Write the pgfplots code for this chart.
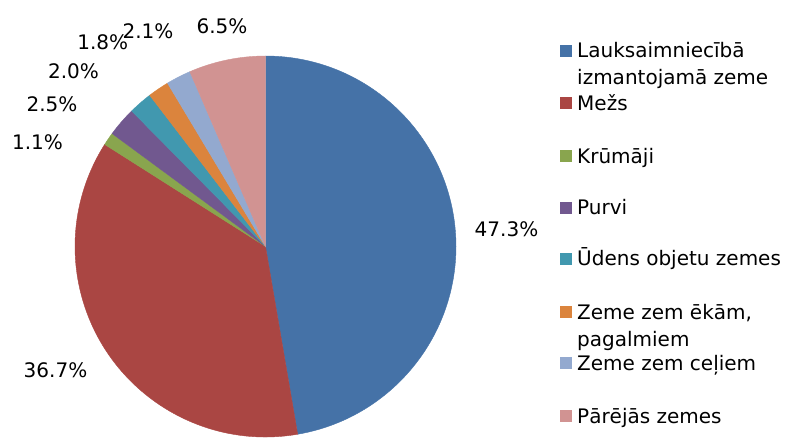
\documentclass[border=0pt]{standalone}
\usepackage{pgfplots}
\pgfplotsset{compat=1.18}
\usepackage{fontspec}
\setmainfont{DejaVu Sans}
\definecolor{c1}{HTML}{4572A7}
\definecolor{c2}{HTML}{AA4643}
\definecolor{c3}{HTML}{89A54E}
\definecolor{c4}{HTML}{71588F}
\definecolor{c5}{HTML}{4198AF}
\definecolor{c6}{HTML}{DB843D}
\definecolor{c7}{HTML}{93A9CF}
\definecolor{c8}{HTML}{D19392}
\def\cx{265.5}
\def\cy{190.5}
\def\rr{190.5}
\begin{document}
\begin{tikzpicture}
\begin{axis}[x=1pt,y=1pt,xmin=0,xmax=785,ymin=0,ymax=437,hide axis,clip=false,
  font=\fontsize{20}{27}\selectfont]
% slices: 47.3, 36.7, 1.1, 2.5, 2.0, 1.8, 2.1, 6.5 (percent), clockwise from 12 o'clock
\filldraw[c1,line width=0.4pt] (axis cs:\cx,\cy) -- ++({90}:\rr pt) arc[start angle={90}, delta angle={-3.6*47.3}, radius=\rr pt] -- cycle;
\filldraw[c2,line width=0.4pt] (axis cs:\cx,\cy) -- ++({90-3.6*47.3}:\rr pt) arc[start angle={90-3.6*47.3}, delta angle={-3.6*36.7}, radius=\rr pt] -- cycle;
\filldraw[c3,line width=0.4pt] (axis cs:\cx,\cy) -- ++({90-3.6*84.0}:\rr pt) arc[start angle={90-3.6*84.0}, delta angle={-3.6*1.1}, radius=\rr pt] -- cycle;
\filldraw[c4,line width=0.4pt] (axis cs:\cx,\cy) -- ++({90-3.6*85.1}:\rr pt) arc[start angle={90-3.6*85.1}, delta angle={-3.6*2.5}, radius=\rr pt] -- cycle;
\filldraw[c5,line width=0.4pt] (axis cs:\cx,\cy) -- ++({90-3.6*87.6}:\rr pt) arc[start angle={90-3.6*87.6}, delta angle={-3.6*2.0}, radius=\rr pt] -- cycle;
\filldraw[c6,line width=0.4pt] (axis cs:\cx,\cy) -- ++({90-3.6*89.6}:\rr pt) arc[start angle={90-3.6*89.6}, delta angle={-3.6*1.8}, radius=\rr pt] -- cycle;
\filldraw[c7,line width=0.4pt] (axis cs:\cx,\cy) -- ++({90-3.6*91.4}:\rr pt) arc[start angle={90-3.6*91.4}, delta angle={-3.6*2.1}, radius=\rr pt] -- cycle;
\filldraw[c8,line width=0.4pt] (axis cs:\cx,\cy) -- ++({90-3.6*93.5}:\rr pt) arc[start angle={90-3.6*93.5}, delta angle={-3.6*6.5}, radius=\rr pt] -- cycle;
% data labels
\node[inner sep=0] at (axis cs:506.5,207.5) {47.3\%};
\node[inner sep=0] at (axis cs:55.5,67) {36.7\%};
\node[inner sep=0] at (axis cs:37.5,294.5) {1.1\%};
\node[inner sep=0] at (axis cs:52,332.5) {2.5\%};
\node[inner sep=0] at (axis cs:73.5,365.5) {2.0\%};
\node[inner sep=0] at (axis cs:102.8,394.5) {1.8\%};
\node[inner sep=0] at (axis cs:148,406) {2.1\%};
\node[inner sep=0] at (axis cs:222,411) {6.5\%};
% legend
\fill[c1] (axis cs:560,380.2) rectangle (axis cs:572,392.2);
\fill[c2] (axis cs:560,327.7) rectangle (axis cs:572,339.7);
\fill[c3] (axis cs:560,274.7) rectangle (axis cs:572,286.7);
\fill[c4] (axis cs:560,223.3) rectangle (axis cs:572,235.3);
\fill[c5] (axis cs:560,172.3) rectangle (axis cs:572,184.3);
\fill[c6] (axis cs:560,118.8) rectangle (axis cs:572,130.8);
\fill[c7] (axis cs:560,68) rectangle (axis cs:572,80);
\fill[c8] (axis cs:560,14.7) rectangle (axis cs:572,26.7);
\node[anchor=base west,inner sep=0] at (axis cs:577,379.2) {Lauksaimniecībā};
\node[anchor=base west,inner sep=0] at (axis cs:577,352.2) {izmantojamā zeme};
\node[anchor=base west,inner sep=0] at (axis cs:577,326.7) {Mežs};
\node[anchor=base west,inner sep=0] at (axis cs:577,273.7) {Krūmāji};
\node[anchor=base west,inner sep=0] at (axis cs:577,222.3) {Purvi};
\node[anchor=base west,inner sep=0] at (axis cs:577,171.3) {Ūdens objetu zemes};
\node[anchor=base west,inner sep=0] at (axis cs:577,117.8) {Zeme zem ēkām,};
\node[anchor=base west,inner sep=0] at (axis cs:577,90.8) {pagalmiem};
\node[anchor=base west,inner sep=0] at (axis cs:577,67) {Zeme zem ceļiem};
\node[anchor=base west,inner sep=0] at (axis cs:577,13.7) {Pārējās zemes};
\end{axis}
\pgfresetboundingbox
\useasboundingbox (current axis.south west) rectangle (current axis.north east);
\end{tikzpicture}
\end{document}
